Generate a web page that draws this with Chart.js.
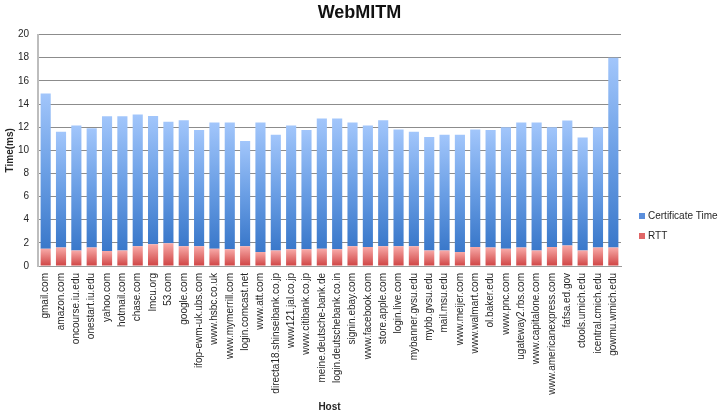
<!DOCTYPE html>
<html>
<head>
<meta charset="utf-8">
<script src="https://cdn.jsdelivr.net/npm/chart.js@4.4.1/dist/chart.umd.min.js"></script>
<style>
  html, body { margin: 0; padding: 0; background: #fff; }
  #wrap { width: 719px; height: 417px; }
</style>
</head>
<body>
<div id="wrap"><canvas id="webmitm"></canvas></div>
<script>
// hosts along the x axis
const hosts = [
    'gmail.com', 'amazon.com', 'oncourse.iu.edu', 'onestart.iu.edu', 'yahoo.com',
    'hotmail.com', 'chase.com', 'lmcu.org', '53.com', 'google.com',
    'ifop-ewm-uk.ubs.com', 'www.hsbc.co.uk', 'www.mymerrill.com', 'login.comcast.net', 'www.att.com',
    'directa18.shinseibank.co.jp', 'www121.jal.co.jp', 'www.citibank.co.jp', 'meine.deutsche-bank.de', 'login.deutschebank.co.in',
    'signin.ebay.com', 'www.facebook.com', 'store.apple.com', 'login.live.com', 'mybanner.gvsu.edu',
    'mybb.gvsu.edu', 'mail.msu.edu', 'www.meijer.com', 'www.walmart.com', 'ol.baker.edu',
    'www.pnc.com', 'ugateway2.rbs.com', 'www.capitalone.com', 'www.americanexpress.com', 'fafsa.ed.gov',
    'ctools.umich.edu', 'icentral.cmich.edu', 'gowmu.wmich.edu'
];

// RTT (bottom segment), ms
const rtt = [
    1.5, 1.6, 1.35, 1.6, 1.3,
    1.35, 1.7, 1.87, 1.96, 1.7,
    1.7, 1.5, 1.45, 1.7, 1.2,
    1.35, 1.45, 1.45, 1.5, 1.45,
    1.7, 1.65, 1.7, 1.7, 1.7,
    1.35, 1.35, 1.2, 1.65, 1.6,
    1.5, 1.6, 1.35, 1.65, 1.78,
    1.35, 1.6, 1.6
];

// Certificate Time (stacked on top of RTT), ms
const certTime = [
    13.4, 10.0, 10.8, 10.3, 11.65,
    11.6, 11.4, 11.1, 10.5, 10.9,
    10.05, 10.9, 10.95, 9.1, 11.2,
    10.0, 10.7, 10.3, 11.25, 11.3,
    10.7, 10.5, 10.9, 10.1, 9.9,
    9.8, 10.0, 10.15, 10.15, 10.15,
    10.5, 10.8, 11.05, 10.35, 10.8,
    9.75, 10.4, 16.4
];

const yTicks = { min: 0, max: 20, step: 2 };

const FONT = '"Liberation Sans", Arial, sans-serif';

// each bar gets its own vertical gradient, light on top, dark at the bottom
function barGradient(ctx, stops, fallback) {
    const chart = ctx.chart;
    if (!chart.chartArea || ctx.type !== 'data' || !chart.scales.y) return fallback;
    const y = chart.scales.y;
    const ds = chart.data.datasets;
    let base = 0;
    for (let i = 0; i < ctx.datasetIndex; i++) base += ds[i].data[ctx.dataIndex];
    const top = y.getPixelForValue(base + ctx.raw);
    const bottom = y.getPixelForValue(base);
    if (!isFinite(top) || !isFinite(bottom) || top === bottom) return fallback;
    const g = chart.ctx.createLinearGradient(0, top, 0, bottom);
    stops.forEach(s => g.addColorStop(s[0], s[1]));
    return g;
}

const blueStops = [[0, '#a2c6fb'], [0.5, '#6b9fe5'], [1, '#3a78ca']];
const redStops = [[0, '#f8aaa8'], [1, '#cf4343']];

// legend drawn at the right, Excel style
const sideLegend = {
    id: 'sideLegend',
    afterDraw(chart) {
        const c = chart.ctx;
        const items = [
            { text: 'Certificate Time', color: '#5b8fdc', y: 216 },
            { text: 'RTT', color: '#e06666', y: 236 }
        ];
        c.save();
        c.font = '10px ' + FONT;
        c.textBaseline = 'middle';
        items.forEach(it => {
            c.fillStyle = it.color;
            c.fillRect(639, it.y - 3, 6, 6);
            c.fillStyle = '#262626';
            c.fillText(it.text, 648, it.y);
        });
        c.restore();
    }
};

const ctx = document.getElementById('webmitm').getContext('2d');
new Chart(ctx, {
    type: 'bar',
    data: {
        labels: hosts,
        datasets: [{
            label: 'RTT',
            data: rtt,
            backgroundColor: (c) => barGradient(c, redStops, '#e06666'),
            borderWidth: 0,
            barPercentage: 0.66,
            categoryPercentage: 1
        }, {
            label: 'Certificate Time',
            data: certTime,
            backgroundColor: (c) => barGradient(c, blueStops, '#5b8fdc'),
            borderWidth: 0,
            barPercentage: 0.66,
            categoryPercentage: 1
        }]
    },
    options: {
        responsive: true,
        maintainAspectRatio: false,
        animation: false,
        layout: { padding: 0 },
        plugins: {
            legend: { display: false },
            tooltip: { enabled: false },
            title: {
                display: true,
                text: 'WebMITM',
                color: '#111',
                font: { family: FONT, size: 18, weight: 'bold' },
                padding: { top: 2, bottom: 11 }
            }
        },
        scales: {
            x: {
                stacked: true,
                grid: { display: false, drawTicks: false },
                border: { display: true, color: '#9a9a9a', width: 1 },
                ticks: {
                    autoSkip: false,
                    minRotation: 90,
                    maxRotation: 90,
                    padding: 7,
                    color: '#262626',
                    font: { family: FONT, size: 10 }
                },
                title: {
                    display: true,
                    text: 'Host',
                    color: '#262626',
                    font: { family: FONT, size: 10, weight: 'bold' },
                    padding: { top: 2, bottom: 4 }
                },
                afterFit(scale) { scale.height = 151; }
            },
            y: {
                stacked: true,
                min: yTicks.min,
                max: yTicks.max,
                grid: { color: '#8c8c8c', lineWidth: 1, drawTicks: false },
                border: { display: true, color: '#bdbdbd', width: 2 },
                ticks: {
                    stepSize: yTicks.step,
                    padding: 9,
                    color: '#262626',
                    font: { family: FONT, size: 10 }
                },
                title: {
                    display: true,
                    text: 'Time(ms)',
                    color: '#262626',
                    font: { family: FONT, size: 10, weight: 'bold' },
                    padding: { top: 4, bottom: 2 }
                },
                afterFit(scale) { scale.width = 38; }
            },
            // empty axis on the right only to keep room for the legend
            legendSpace: {
                position: 'right',
                grid: { display: false, drawTicks: false },
                border: { display: false },
                ticks: { display: false },
                afterFit(scale) { scale.width = 98; }
            }
        }
    },
    plugins: [sideLegend]
});
</script>
</body>
</html>
